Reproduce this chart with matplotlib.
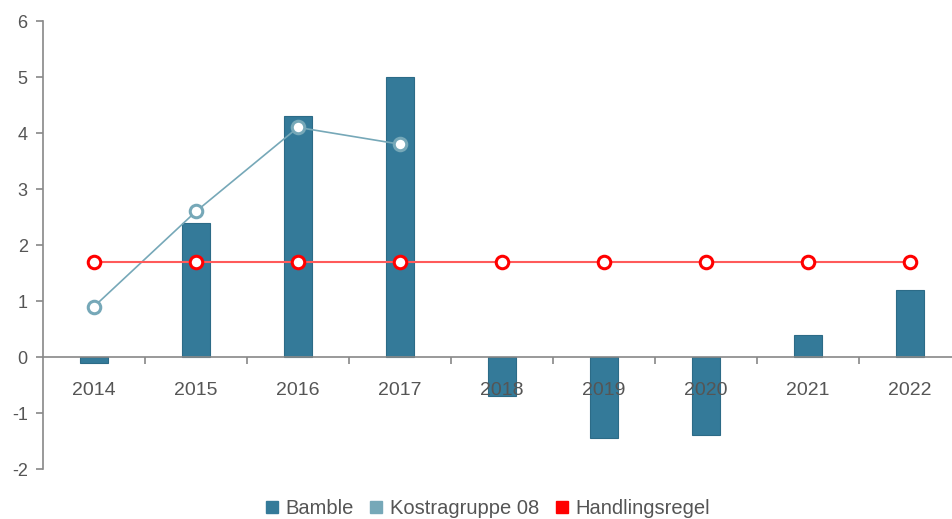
import numpy as np
import matplotlib.pyplot as plt
import matplotlib.lines as mlines

plt.rcParams['font.family'] = ['Liberation Sans', 'DejaVu Sans']
plt.rcParams['axes.unicode_minus'] = False

years = ['2014', '2015', '2016', '2017', '2018', '2019', '2020', '2021', '2022']
bamble = [-0.1, 2.4, 4.3, 5.0, -0.7, -1.45, -1.4, 0.4, 1.2]
kostra = [0.9, 2.6, 4.1, 3.8, np.nan, np.nan, np.nan, np.nan, np.nan]
handlingsregel = [1.7] * 9

bar_color = '#347a99'
kostra_color = '#76a8b8'
regel_color = '#ff0000'
text_color = '#555555'
axis_color = '#888888'

fig = plt.figure(figsize=(9.52, 5.19), dpi=100)
ax = fig.add_axes([43 / 952, 50 / 519, 918 / 952, 448 / 519])
ax.set_axisbelow(False)

x = np.arange(len(years))
ax.bar(x, bamble, width=0.27, color=bar_color, edgecolor='#2c6b87', linewidth=0.8, zorder=1)
ax.plot(x, kostra, color=kostra_color, linewidth=1.2, marker='o', markersize=9,
        markerfacecolor='white', markeredgecolor=kostra_color, markeredgewidth=2.2, zorder=3)
ax.plot(x, handlingsregel, color='#ff5a5a', linewidth=1.5, marker='o', markersize=9,
        markerfacecolor='white', markeredgecolor=regel_color, markeredgewidth=2.2, zorder=4)

ax.set_xlim(-0.5, len(years) - 0.5)
ax.set_ylim(-2, 6)
ax.set_yticks(range(-2, 7))

for s in ['top', 'right']:
    ax.spines[s].set_visible(False)
ax.spines['bottom'].set_position(('data', 0))
ax.spines['bottom'].set_color(axis_color)
ax.spines['left'].set_color(axis_color)
ax.spines['bottom'].set_linewidth(1.2)
ax.spines['left'].set_linewidth(1.2)

ax.set_xticks(x)
ax.set_xticklabels(years)
ax.set_xticks(np.arange(0.5, len(years) - 0.5, 1.0), minor=True)
ax.tick_params(axis='x', which='major', length=0, pad=18, labelsize=14, labelcolor=text_color)
ax.tick_params(axis='x', which='minor', length=5, width=1.2, color=axis_color)
ax.tick_params(axis='y', length=5, width=1.2, color=axis_color, labelsize=13,
               labelcolor=text_color, pad=6)

handles = [
    mlines.Line2D([], [], color=bar_color, marker='s', linestyle='None', markersize=9, label='Bamble'),
    mlines.Line2D([], [], color=kostra_color, marker='s', linestyle='None', markersize=9, label='Kostragruppe 08'),
    mlines.Line2D([], [], color=regel_color, marker='s', linestyle='None', markersize=9, label='Handlingsregel'),
]
leg = fig.legend(handles=handles, loc='center', bbox_to_anchor=(486 / 952, 1 - 509 / 519),
                 ncol=3, frameon=False, fontsize=14.5, handletextpad=0.2, columnspacing=0.6,
                 handlelength=1.0)
for t in leg.get_texts():
    t.set_color(text_color)

fig.savefig('out.png', dpi=100)
